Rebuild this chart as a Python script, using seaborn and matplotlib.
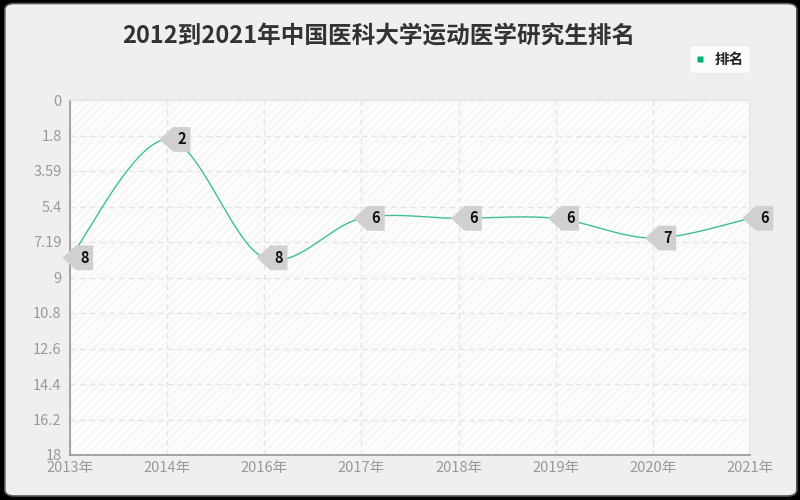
# 2012到2021年中国医科大学运动医学研究生排名 - line chart
import numpy as np
import pandas as pd
import seaborn as sns
import matplotlib.pyplot as plt
from matplotlib.patches import FancyBboxPatch
from matplotlib.path import Path
from matplotlib.lines import Line2D

# dados
years = ['2013年', '2014年', '2016年', '2017年', '2018年', '2019年', '2020年', '2021年']
ranks = [8, 2, 8, 6, 6, 6, 7, 6]
y_ticks = [0, 1.8, 3.59, 5.4, 7.19, 9, 10.8, 12.6, 14.4, 16.2, 18]
title = '2012到2021年中国医科大学运动医学研究生排名'
series_name = '排名'

sns.set_theme(style='white')
plt.rcParams['font.family'] = ['Noto Sans CJK SC', 'DejaVu Sans']
plt.rcParams['hatch.linewidth'] = 0.6

line_color = '#3fbf91'

# curva suave (catmull-rom) entre os pontos, só para desenhar a linha
def smooth(xs, ys, n=40):
    xs = np.asarray(xs, float)
    ys = np.asarray(ys, float)
    px = np.concatenate([[xs[0]], xs, [xs[-1]]])
    py = np.concatenate([[ys[0]], ys, [ys[-1]]])
    out_x, out_y = [], []
    for i in range(1, len(px) - 2):
        t = np.linspace(0, 1, n, endpoint=False)
        for p, out in ((px, out_x), (py, out_y)):
            p0, p1, p2, p3 = p[i - 1], p[i], p[i + 1], p[i + 2]
            out.extend(0.5 * ((2 * p1) + (-p0 + p2) * t
                              + (2 * p0 - 5 * p1 + 4 * p2 - p3) * t ** 2
                              + (-p0 + 3 * p1 - 3 * p2 + p3) * t ** 3))
    out_x.append(xs[-1])
    out_y.append(ys[-1])
    return np.array(out_x), np.array(out_y)

# caixinha do rótulo com ponta para a esquerda
def tag_box(x0, y0, width, height, mutation_size):
    pad = 0.3 * mutation_size
    x0, y0 = x0 - pad, y0 - pad
    x1, y1 = x0 + width + 2 * pad, y0 + height + 2 * pad
    tip = (y1 - y0) * 0.55
    ym = (y0 + y1) / 2
    verts = [(x0, y0), (x1, y0), (x1, y1), (x0, y1), (x0 - tip, ym), (x0, y0)]
    return Path(verts, closed=True)

xpos = np.arange(len(years))
sx, sy = smooth(xpos, ranks)
df_line = pd.DataFrame({'x': sx, 'y': sy})

fig = plt.figure(figsize=(8, 5), dpi=100)
fig.patch.set_facecolor('black')

# moldura arredondada (fica atrás dos eixos)
frame_ax = fig.add_axes([0, 0, 1, 1], zorder=-10)
frame_ax.set_axis_off()
frame_ax.add_patch(FancyBboxPatch((0.006, 0.008), 0.99, 0.985,
                                  boxstyle='round,pad=0,rounding_size=0.012',
                                  transform=frame_ax.transAxes, facecolor='#efefef',
                                  edgecolor='#555555', linewidth=1.2))

ax = fig.add_axes([0.0875, 0.09, 0.85, 0.71])
ax.set_facecolor('#fcfcfc')
ax.add_patch(plt.Rectangle((0, 0), 1, 1, transform=ax.transAxes, facecolor='none',
                           edgecolor='#f0f0f0', hatch='////', linewidth=0, zorder=0))

sns.lineplot(data=df_line, x='x', y='y', ax=ax, color=line_color, linewidth=1.0,
             sort=False, estimator=None)

for x, v in zip(xpos, ranks):
    ax.annotate(str(v), xy=(x, v), xytext=(10.5, 0), textcoords='offset points',
                ha='center', va='center', fontsize=10.5, fontweight='bold', color='#111111',
                bbox=dict(boxstyle=tag_box, facecolor='#d0d0d0', edgecolor='none'),
                annotation_clip=False, zorder=5)

ax.set_xlim(0, len(years) - 1)
ax.set_ylim(18, 0)
ax.set_xticks(xpos)
ax.set_xticklabels(years)
ax.set_yticks(y_ticks)
ax.set_yticklabels([f'{t:g}' for t in y_ticks])
ax.set_xlabel('')
ax.set_ylabel('')
ax.tick_params(axis='both', colors='#999999', labelcolor='#999999', labelsize=10.5,
               length=4, width=1, direction='out', pad=2)
ax.tick_params(axis='x', pad=0)
ax.grid(True, color='#e4e4e4', linestyle=(0, (4, 3)), linewidth=1)
for side in ['left', 'bottom']:
    ax.spines[side].set_color('#999999')
for side in ['top', 'right']:
    ax.spines[side].set_color('#e6e6e6')

fig.text(0.474, 0.928, title, ha='center', va='center', fontsize=17,
         fontweight='bold', color='#333333')

handle = Line2D([], [], marker='s', color='none', markerfacecolor='#00b07a',
                markeredgecolor='none', markersize=5)
leg = fig.legend([handle], [series_name], loc='upper right', bbox_to_anchor=(0.9375, 0.91),
                 borderaxespad=0, frameon=True, fontsize=10.5, handlelength=0.8,
                 handletextpad=0.6, borderpad=0.4, fancybox=True)
leg.get_frame().set_facecolor('white')
leg.get_frame().set_edgecolor('#e8e8e8')
for t in leg.get_texts():
    t.set_fontweight('bold')
    t.set_color('#222222')

fig.savefig('out.png', dpi=100)
